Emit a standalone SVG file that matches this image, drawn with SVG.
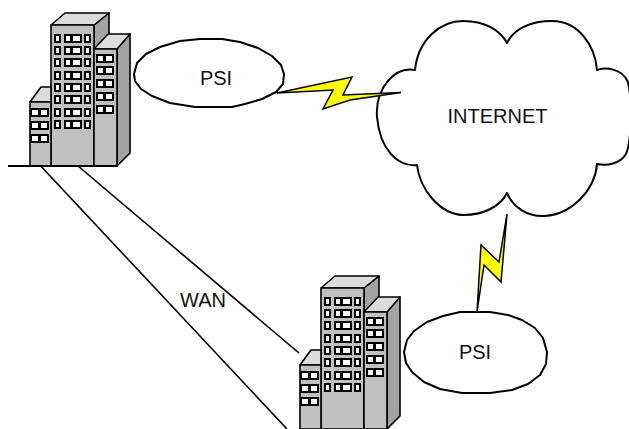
<svg xmlns="http://www.w3.org/2000/svg" xmlns:xlink="http://www.w3.org/1999/xlink" width="629" height="429" viewBox="0 0 629 429">
  <style>
    .front { fill: #c0c0c0; stroke: #000; stroke-width: 1.6; stroke-linejoin: round; }
    .roof  { fill: #dcdcdc; stroke: #000; stroke-width: 1.6; stroke-linejoin: round; }
    .side  { fill: #a3a3a3; stroke: #000; stroke-width: 1.6; stroke-linejoin: round; }
    .frame { fill: #000; }
    .pane  { fill: #fff; }
    .cloud { fill: #fff; stroke: #000; stroke-width: 2; stroke-linejoin: round; }
    .link  { fill: none; stroke: #000; stroke-width: 1.6; }
    .bolt  { fill: #ffff00; stroke: #000; stroke-width: 1.5; stroke-linejoin: miter; }
    .label { font-family: "Liberation Sans", Arial, sans-serif; font-size: 20px; fill: #111; }
  </style>
  <defs>
    <!-- one row of windows per block type -->
    <g id="tallRow">
      <rect class="frame" x="54" y="0" width="7" height="9"/>
      <rect class="pane" x="56" y="2" width="3" height="5"/>
      <rect class="frame" x="64" y="0" width="18" height="9"/>
      <rect class="pane" x="66" y="2" width="4" height="5"/>
      <rect class="pane" x="73" y="2" width="7" height="5"/>
      <rect class="frame" x="84" y="0" width="7" height="9"/>
      <rect class="pane" x="86" y="2" width="3" height="5"/>
    </g>
    <g id="rightRow">
      <rect class="frame" x="96" y="0" width="18" height="9"/>
      <rect class="pane" x="98" y="2" width="5" height="5"/>
      <rect class="pane" x="106" y="2" width="6" height="5"/>
    </g>
    <g id="leftRow">
      <rect class="frame" x="30" y="0" width="19" height="9"/>
      <rect class="pane" x="32" y="2" width="6" height="5"/>
      <rect class="pane" x="41" y="2" width="6" height="5"/>
    </g>
    <!-- office building clip-art -->
    <g id="building">
      <polygon class="side" points="94,25 109,13 109,150 94,166"/>
      <polygon class="roof" points="51,25 65,13 109,13 94,25"/>
      <rect class="front" x="51" y="25" width="43" height="141"/>
      <polygon class="roof" points="30,102 41,87 51,87 51,102"/>
      <rect class="front" x="30" y="102" width="21" height="64"/>
      <polygon class="side" points="117,49 130,34 130,153 117,166"/>
      <polygon class="roof" points="94,49 108,34 130,34 117,49"/>
      <rect class="front" x="94" y="49" width="23" height="117"/>
      <use xlink:href="#tallRow" y="34"/>
      <use xlink:href="#tallRow" y="46"/>
      <use xlink:href="#tallRow" y="58"/>
      <use xlink:href="#tallRow" y="71"/>
      <use xlink:href="#tallRow" y="83"/>
      <use xlink:href="#tallRow" y="95"/>
      <use xlink:href="#tallRow" y="108"/>
      <use xlink:href="#tallRow" y="120"/>
      <use xlink:href="#rightRow" y="54"/>
      <use xlink:href="#rightRow" y="66"/>
      <use xlink:href="#rightRow" y="79"/>
      <use xlink:href="#rightRow" y="92"/>
      <use xlink:href="#rightRow" y="105"/>
      <use xlink:href="#leftRow" y="108"/>
      <use xlink:href="#leftRow" y="121"/>
      <use xlink:href="#leftRow" y="134"/>
    </g>
  </defs>

  <rect width="629" height="429" fill="#fff"/>

  <!-- head office -->
  <g id="office-a">
    <use xlink:href="#building"/>
    <line x1="8" y1="166" x2="118" y2="166" stroke="#000" stroke-width="2"/>
  </g>

  <!-- branch office -->
  <g id="office-b">
    <use xlink:href="#building" transform="translate(270,263)"/>
  </g>

  <!-- provider cloud, upper -->
  <g id="psi-a">
    <path class="cloud" d="M134,74 L137,63 L146,54 L160,47 L180,41 L200,39 L222,39 L240,42 L258,48 L272,56 L281,65 L284,74 L283,84 L276,92 L262,99 L245,104 L232,107 L195,107 L170,103 L152,96 L141,89 L135,81 Z"/>
    <text class="label" x="216" y="85" text-anchor="middle">PSI</text>
  </g>

  <!-- internet cloud -->
  <g id="internet">
    <path class="cloud" d="M415,70 C418,40 440,21 463,21 C485,21 500,30 507,43 C514,28 532,21 552,21 C578,21 595,45 597,70 C605,67 622,68 628,82 C632,100 632,140 626,154 C620,164 607,166 597,164 C595,190 572,214 545,216 C527,217 513,207 507,193 C500,207 483,215 463,215 C440,214 420,190 417,165 C398,167 380,150 377,117 C375,88 395,66 415,70 Z"/>
    <text class="label" x="497.5" y="123" text-anchor="middle">INTERNET</text>
  </g>

  <!-- provider cloud, lower -->
  <g id="psi-b">
    <path class="cloud" d="M404,352 L407,340 L414,331 L427,322 L443,316 L460,312 L490,312 L508,315 L522,320 L535,328 L543,338 L547,352 L546,364 L540,375 L528,384 L512,390 L490,393 L462,393 L440,389 L424,382 L412,372 L406,363 Z"/>
    <text class="label" x="475" y="359" text-anchor="middle">PSI</text>
  </g>

  <!-- links -->
  <g id="connectors">
    <line class="link" x1="40.7" y1="166" x2="287" y2="429"/>
    <line class="link" x1="78" y1="166" x2="299" y2="353"/>
    <text class="label" x="180" y="307">WAN</text>
    <polygon class="bolt" points="277,93 352,77 343,95 401,92.5 350,100 323,109 333,90"/>
    <polygon class="bolt" points="507,214 499,262 481,245 477,312 484,265 501,282"/>
  </g>
</svg>
